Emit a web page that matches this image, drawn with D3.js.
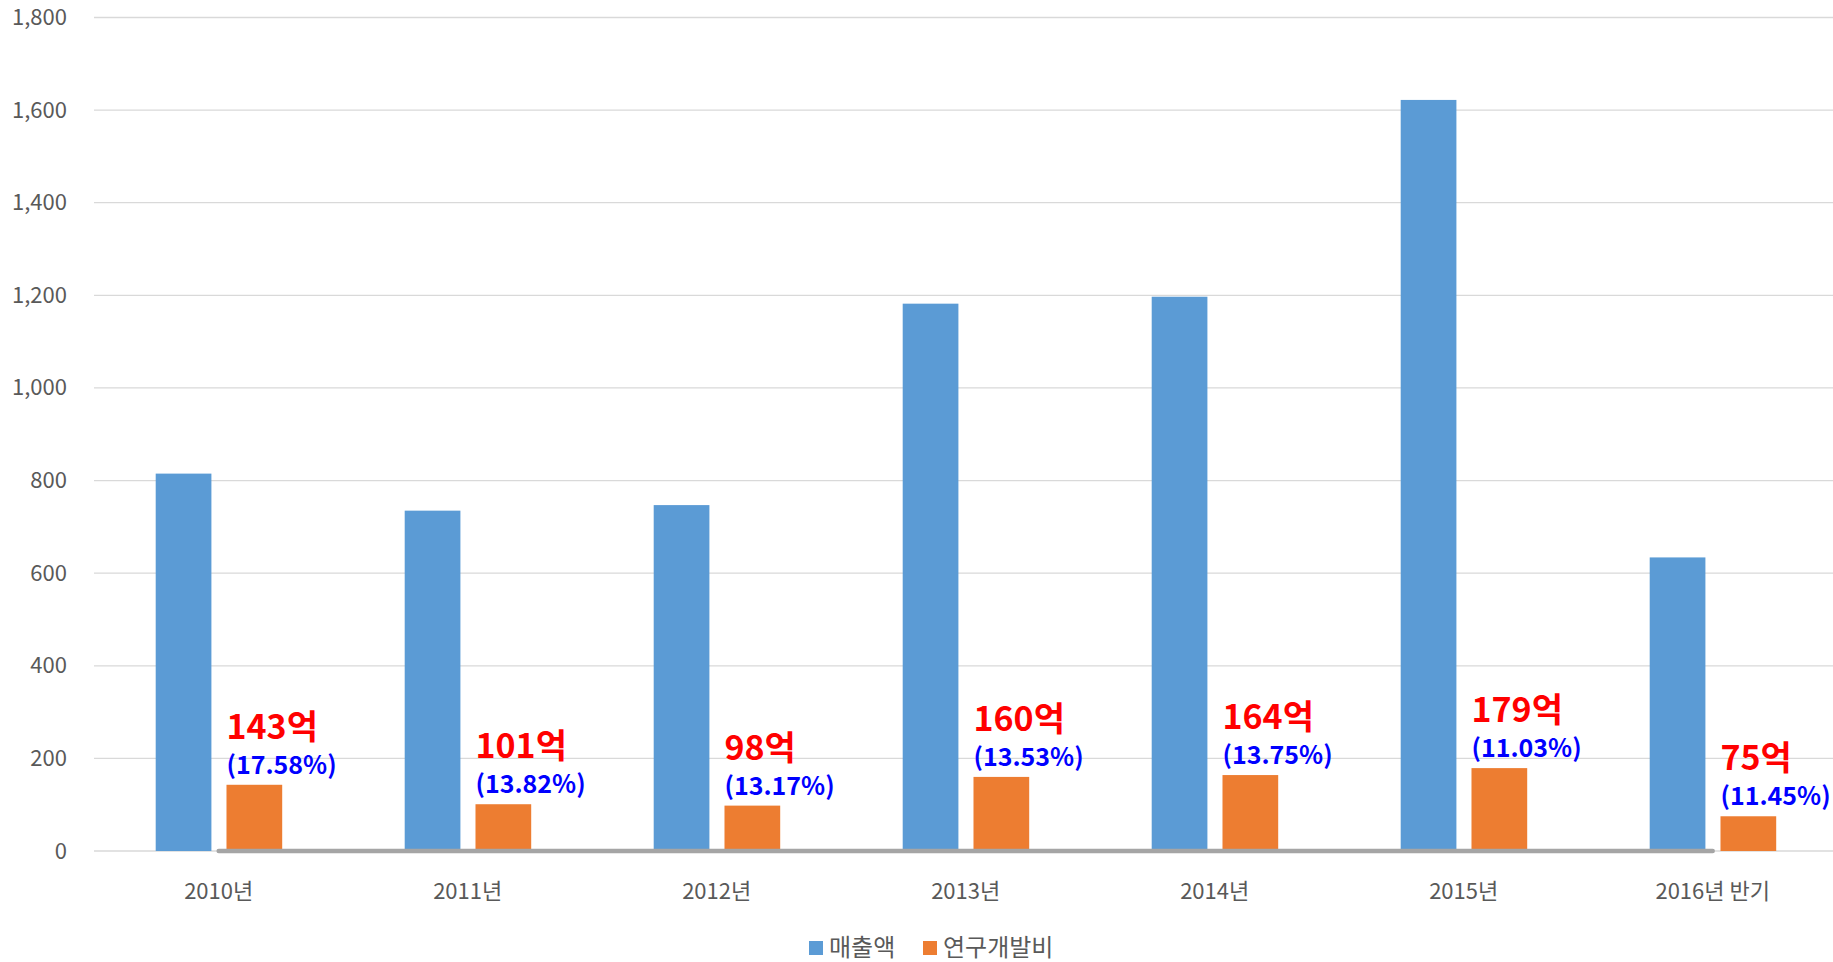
<!DOCTYPE html>
<html><head><meta charset="utf-8">
<script src="https://cdn.jsdelivr.net/npm/d3@7"></script>
<style>
html,body{margin:0;padding:0;background:#fff;}
svg{display:block;}
</style></head>
<body>
<svg id="chart" width="1833" height="962"></svg>
<script>
const categories = ["2010년","2011년","2012년","2013년","2014년","2015년","2016년 반기"];
const salesValues = [815, 735, 747, 1182, 1197, 1622, 634];
const rndValues = [143, 101, 98, 160, 164, 179, 75];
const rndLabels = ["143억","101억","98억","160억","164억","179억","75억"];
const ratioLabels = ["(17.58%)","(13.82%)","(13.17%)","(13.53%)","(13.75%)","(11.03%)","(11.45%)"];
const seriesNames = ["매출액","연구개발비"];
const yTicks = [0,200,400,600,800,1000,1200,1400,1600,1800];

const colors = ["#5b9bd5","#ed7d31"];
const svg = d3.select("#chart");
const x = d3.scaleBand().domain(categories).range([94.2, 1837.2]).padding(0);
const x1 = d3.scaleBand().domain([0,1]).range([61.5, 188]).paddingInner(0.213).paddingOuter(0);
const y = d3.scaleLinear().domain([0,1800]).range([851, 17.5]);
const font = "'Noto Sans CJK KR','Noto Sans',sans-serif";

// gridlines
svg.append("g").selectAll("line").data(yTicks).join("line")
  .attr("x1", 94).attr("x2", 1833)
  .attr("y1", d => y(d)).attr("y2", d => y(d))
  .attr("stroke", "#d9d9d9").attr("stroke-width", 1.3);

// y axis labels
const yAxis = d3.axisLeft(y).tickValues(yTicks).tickFormat(d3.format(",")).tickSize(0).tickPadding(0);
const yg = svg.append("g").attr("transform", "translate(67,0)").call(yAxis);
yg.select(".domain").remove();
yg.selectAll("text").attr("font-family", font).attr("font-size", 22).attr("fill", "#595959");

// x axis labels
const xAxis = d3.axisBottom(x).tickSize(0).tickPadding(0);
const xg = svg.append("g").attr("transform", "translate(0,879)").call(xAxis);
xg.select(".domain").remove();
xg.selectAll("text").attr("font-family", font).attr("font-size", 22).attr("fill", "#595959").attr("dy", "0.9em");

// bars
const seriesData = [salesValues, rndValues];
seriesData.forEach((vals, si) => {
  svg.append("g").selectAll("rect").data(vals).join("rect")
    .attr("x", (d, i) => x(categories[i]) + x1(si))
    .attr("width", x1.bandwidth())
    .attr("y", d => y(d))
    .attr("height", d => y(0) - y(d))
    .attr("fill", colors[si]);
});

// gray baseline line
const line = d3.line().x(d => x(d) + x.bandwidth()/2).y(() => y(0));
svg.append("path").datum(categories).attr("d", line)
  .attr("stroke", "#a5a5a5").attr("stroke-width", 4.5).attr("stroke-linecap", "round").attr("fill", "none");

// labels
const lg = svg.append("g");
rndValues.forEach((v, i) => {
  const lx = x(categories[i]) + x1(1);
  const by = y(v) - 11;
  lg.append("text").attr("x", lx).attr("y", by).text(ratioLabels[i])
    .attr("font-family", font).attr("font-weight", "bold").attr("font-size", 25).attr("fill", "#0000ff");
  lg.append("text").attr("x", lx).attr("y", by - 35).text(rndLabels[i])
    .attr("font-family", font).attr("font-weight", "bold").attr("font-size", 34).attr("fill", "#ff0000");
});

// legend
const leg = svg.append("g");
const legItems = [{x: 809, name: seriesNames[0], c: colors[0]}, {x: 923, name: seriesNames[1], c: colors[1]}];
legItems.forEach(it => {
  leg.append("rect").attr("x", it.x).attr("y", 941).attr("width", 14).attr("height", 14).attr("fill", it.c);
  leg.append("text").attr("x", it.x + 20).attr("y", 948).attr("dy", "0.35em").text(it.name)
    .attr("font-family", font).attr("font-size", 24).attr("fill", "#595959");
});
</script>
</body></html>
